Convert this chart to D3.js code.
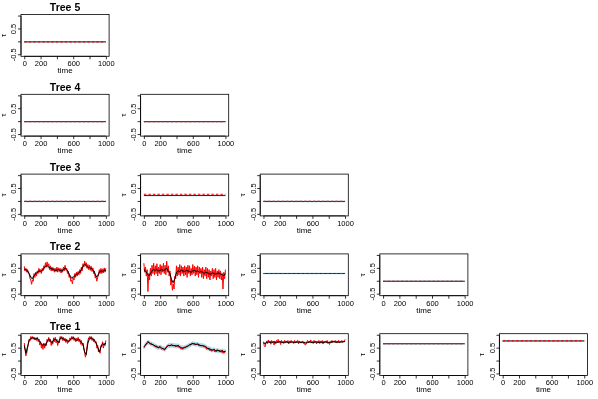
<!DOCTYPE html>
<html>
<head>
<meta charset="utf-8">
<script src="https://cdn.jsdelivr.net/npm/d3@7"></script>
<style>
  body { margin: 0; background: #fff; }
  svg { display: block; font-family: "Liberation Sans", Arial, sans-serif; will-change: transform; }
</style>
</head>
<body>
<svg id="chart" width="598" height="399"></svg>
<script>
const treeTitles = ["Tree 5", "Tree 4", "Tree 3", "Tree 2", "Tree 1"];
const xTicks = [0, 200, 400, 600, 800, 1000];
const xTickLabels = ["0", "200", "", "600", "", "1000"];
const yTicks = [-0.5, 0, 0.5, 1];
const yTickLabels = ["-0.5", "", "0.5", ""];
const meanStep = 20;
const trueStep = 10;

// constant pair copulas: row (0 = Tree 5), col, posterior mean, true value
const flatRows = [0, 1, 1, 2, 2, 2, 3, 3, 4, 4];
const flatCols = [0, 0, 1, 0, 1, 2, 2, 3, 3, 4];
const flatMean = [0, 0, 0, 0, 0.23, 0, 0.3, 0, 0.67, 0.78];
const flatTrue = [0, 0, 0, 0, 0.28, 0, 0.3, 0, 0.67, 0.78];

// dynamic pair copulas
const dynRows = [3, 3, 4, 4, 4];
const dynCols = [0, 1, 0, 1, 2];
const dynBand = [0.07, 0.07, 0.06, 0.09, 0.04];
const dynMean = [
  [0.46,0.45,0.4,0.3,0.15,0.1,0.22,0.28,0.35,0.4,0.38,0.42,0.5,0.58,0.6,0.55,0.5,0.48,0.45,0.42,0.43,0.45,0.42,0.4,0.45,0.5,0.45,0.35,0.2,0.12,0.15,0.22,0.27,0.3,0.35,0.45,0.58,0.65,0.6,0.55,0.52,0.5,0.45,0.35,0.18,0.2,0.35,0.4,0.38,0.42,0.43],
  [0.45,0.4,0.3,0.2,0.3,0.4,0.45,0.42,0.45,0.4,0.42,0.45,0.42,0.45,0.5,0.4,0.3,0.05,-0.05,0.1,0.35,0.4,0.38,0.42,0.4,0.38,0.42,0.4,0.38,0.35,0.4,0.42,0.38,0.4,0.35,0.38,0.35,0.3,0.35,0.32,0.3,0.28,0.32,0.3,0.28,0.3,0.32,0.28,0.25,0.22,0.3],
  [0.6,0.3,0.55,0.8,0.88,0.9,0.88,0.85,0.88,0.8,0.72,0.6,0.65,0.6,0.75,0.85,0.8,0.7,0.82,0.85,0.78,0.72,0.88,0.9,0.85,0.82,0.8,0.75,0.82,0.88,0.9,0.85,0.8,0.85,0.8,0.72,0.65,0.35,0.25,0.7,0.88,0.9,0.85,0.8,0.7,0.55,0.35,0.55,0.68,0.62,0.7],
  [0.55,0.62,0.7,0.72,0.68,0.65,0.62,0.58,0.55,0.52,0.55,0.5,0.48,0.45,0.55,0.6,0.6,0.62,0.6,0.6,0.58,0.6,0.55,0.52,0.5,0.52,0.55,0.58,0.62,0.65,0.68,0.66,0.65,0.65,0.62,0.6,0.6,0.58,0.55,0.5,0.48,0.45,0.42,0.45,0.4,0.42,0.4,0.38,0.4,0.36,0.38],
  [0.7,0.68,0.72,0.74,0.73,0.72,0.74,0.73,0.72,0.74,0.75,0.73,0.72,0.73,0.74,0.72,0.73,0.74,0.73,0.72,0.73,0.74,0.73,0.72,0.73,0.72,0.7,0.72,0.74,0.73,0.72,0.73,0.74,0.73,0.72,0.73,0.72,0.73,0.74,0.73,0.72,0.73,0.74,0.75,0.74,0.73,0.74,0.73,0.74,0.75,0.76]
];
const dynTrue = [
  [0.58,0.4,0.5,0.35,0.45,0.3,0.28,0.1,0.05,-0.12,0.05,0.0,0.3,0.15,0.35,0.2,0.4,0.3,0.5,0.35,0.45,0.3,0.5,0.4,0.6,0.5,0.72,0.55,0.75,0.6,0.68,0.45,0.6,0.4,0.55,0.4,0.52,0.35,0.5,0.38,0.55,0.35,0.52,0.38,0.5,0.32,0.48,0.35,0.55,0.4,0.62,0.45,0.5,0.3,0.38,0.15,0.22,0.0,0.05,-0.1,0.12,0.05,0.3,0.15,0.35,0.2,0.38,0.25,0.45,0.3,0.55,0.4,0.68,0.55,0.78,0.62,0.72,0.5,0.65,0.45,0.62,0.42,0.58,0.38,0.52,0.3,0.4,0.12,0.2,0.0,0.15,0.25,0.45,0.3,0.5,0.3,0.48,0.32,0.52,0.35,0.5],
  [0.7,0.35,0.55,0.2,0.45,-0.4,0.3,0.05,0.5,0.2,0.62,0.3,0.7,0.25,0.6,0.3,0.68,0.2,0.55,0.3,0.65,0.25,0.6,0.35,0.7,0.3,0.62,0.25,0.78,0.35,0.6,0.2,0.4,-0.15,0.05,-0.35,-0.1,-0.3,0.2,0.1,0.6,0.2,0.55,0.25,0.65,0.2,0.6,0.3,0.55,0.2,0.6,0.25,0.55,0.15,0.62,0.3,0.6,0.2,0.5,0.25,0.65,0.3,0.58,0.2,0.55,0.25,0.6,0.15,0.55,0.3,0.5,0.15,0.55,0.1,0.45,0.2,0.55,0.1,0.5,0.15,0.45,0.05,0.4,0.2,0.5,0.1,0.45,0.15,0.5,0.05,0.4,0.15,0.45,0.1,0.4,0.05,0.3,-0.3,0.35,0.1,0.45],
  [0.7,0.45,0.2,0.3,0.5,0.65,0.85,0.78,0.95,0.85,0.95,0.85,0.93,0.82,0.9,0.8,0.92,0.75,0.85,0.62,0.75,0.5,0.65,0.45,0.7,0.5,0.68,0.6,0.85,0.75,0.92,0.75,0.85,0.6,0.75,0.65,0.9,0.75,0.92,0.7,0.85,0.6,0.78,0.7,0.95,0.85,0.95,0.8,0.92,0.78,0.88,0.72,0.85,0.68,0.8,0.75,0.9,0.8,0.95,0.85,0.95,0.8,0.9,0.75,0.88,0.78,0.92,0.75,0.85,0.65,0.8,0.6,0.7,0.5,0.3,0.15,0.3,0.6,0.8,0.9,0.95,0.85,0.95,0.8,0.9,0.75,0.85,0.7,0.75,0.5,0.6,0.35,0.4,0.3,0.6,0.55,0.75,0.5,0.7,0.6,0.8],
  [0.5,0.58,0.6,0.68,0.72,0.78,0.72,0.7,0.65,0.68,0.62,0.65,0.6,0.58,0.55,0.6,0.52,0.55,0.5,0.58,0.52,0.5,0.45,0.5,0.45,0.42,0.48,0.52,0.58,0.6,0.62,0.58,0.62,0.6,0.64,0.58,0.62,0.58,0.6,0.55,0.6,0.56,0.62,0.52,0.55,0.48,0.5,0.45,0.52,0.5,0.55,0.52,0.58,0.55,0.6,0.6,0.65,0.62,0.68,0.65,0.7,0.65,0.68,0.62,0.66,0.64,0.68,0.6,0.64,0.58,0.62,0.58,0.6,0.55,0.58,0.52,0.55,0.45,0.5,0.45,0.48,0.4,0.45,0.38,0.44,0.42,0.46,0.35,0.42,0.36,0.44,0.38,0.42,0.35,0.4,0.34,0.42,0.3,0.38,0.32,0.4],
  [0.75,0.6,0.55,0.7,0.78,0.68,0.82,0.72,0.78,0.65,0.8,0.7,0.76,0.62,0.78,0.66,0.8,0.72,0.84,0.7,0.78,0.64,0.8,0.7,0.76,0.68,0.8,0.7,0.78,0.72,0.8,0.66,0.78,0.7,0.8,0.72,0.76,0.68,0.8,0.7,0.78,0.72,0.8,0.66,0.78,0.7,0.76,0.72,0.78,0.68,0.74,0.62,0.64,0.72,0.8,0.7,0.78,0.72,0.82,0.7,0.76,0.68,0.8,0.72,0.78,0.66,0.76,0.7,0.8,0.68,0.78,0.72,0.8,0.66,0.76,0.7,0.78,0.72,0.8,0.68,0.74,0.64,0.76,0.7,0.8,0.72,0.78,0.74,0.8,0.7,0.78,0.72,0.8,0.7,0.78,0.74,0.8,0.72,0.78,0.74,0.84]
];

const svg = d3.select("#chart");
const cellW = 598 / 5, cellH = 399 / 5;
const margin = { top: 14.5, right: 10.5, bottom: 23.5, left: 21 };
const innerW = cellW - margin.left - margin.right;
const innerH = cellH - margin.top - margin.bottom;
const pad = 0.04;
const x = d3.scaleLinear().domain([0 - 1000 * pad, 1000 + 1000 * pad]).range([0, innerW]);
const y = d3.scaleLinear().domain([-0.5 - 1.5 * pad, 1 + 1.5 * pad]).range([innerH, 0]);
const line = d3.line().x((d) => x(d[0])).y((d) => y(d[1]));

function panel(row, col) {
  const g = svg.append("g")
    .attr("transform", `translate(${col * cellW + margin.left},${row * cellH + margin.top})`);
  const xAxis = g.append("g").attr("transform", `translate(0,${innerH})`)
    .call(d3.axisBottom(x).tickValues(xTicks).tickSize(3).tickPadding(1.5).tickFormat((d, i) => xTickLabels[i]));
  const yAxis = g.append("g")
    .call(d3.axisLeft(y).tickValues(yTicks).tickSize(3).tickPadding(1.5).tickFormat((d, i) => yTickLabels[i]));
  [xAxis, yAxis].forEach((axis) => {
    axis.select(".domain").remove();
    axis.selectAll("line").attr("stroke", "#000").attr("stroke-width", 0.8);
    axis.selectAll("text").attr("fill", "#000").style("font-size", "7.5px");
  });
  xAxis.append("line").attr("x1", x(0)).attr("x2", x(1000)).attr("stroke", "#000").attr("stroke-width", 0.8);
  yAxis.append("line").attr("y1", y(-0.5)).attr("y2", y(1)).attr("stroke", "#000").attr("stroke-width", 0.8);
  // R draws y tick labels parallel to the axis
  yAxis.selectAll(".tick").attr("transform", null);
  yAxis.selectAll(".tick line").attr("y1", (d) => y(d)).attr("y2", (d) => y(d));
  yAxis.selectAll(".tick text")
    .attr("transform", (d) => `rotate(-90,-4.5,${y(d)})`)
    .attr("x", -4.5).attr("y", (d) => y(d)).attr("dy", "0").attr("text-anchor", "middle");
  g.append("text").attr("x", innerW / 2).attr("y", innerH + 17).attr("text-anchor", "middle")
    .attr("fill", "#000").style("font-size", "8px").text("time");
  g.append("text").attr("transform", `translate(-15,${innerH / 2}) rotate(-90)`).attr("text-anchor", "middle")
    .attr("fill", "#000").style("font-size", "8px").text("τ");
  if (col === 0) {
    g.append("text").attr("x", innerW / 2).attr("y", -3.5).attr("text-anchor", "middle").attr("fill", "#000")
      .style("font-size", "10.5px").style("font-weight", "bold").text(treeTitles[row]);
  }
  return g;
}

function frame(g) {
  g.append("rect").attr("width", innerW).attr("height", innerH)
    .attr("fill", "none").attr("stroke", "#000").attr("stroke-width", 0.8);
}

flatRows.forEach((row, i) => {
  const g = panel(row, flatCols[i]);
  const mean = [[0, flatMean[i]], [1000, flatMean[i]]];
  const tru = [[0, flatTrue[i]], [1000, flatTrue[i]]];
  g.append("path").attr("d", line(mean)).attr("fill", "none").attr("stroke", "#add8e6").attr("stroke-width", 1.4);
  g.append("path").attr("d", line(mean)).attr("fill", "none").attr("stroke", "#000").attr("stroke-width", 0.8);
  g.append("path").attr("d", line(tru)).attr("fill", "none").attr("stroke", "#ff0000").attr("stroke-width", 1.2)
    .attr("stroke-dasharray", "2.5,2");
  frame(g);
});

dynRows.forEach((row, i) => {
  const g = panel(row, dynCols[i]);
  const mean = dynMean[i].map((v, k) => [k * meanStep, v]);
  const tru = dynTrue[i].map((v, k) => [k * trueStep, v]);
  const band = d3.area().x((d) => x(d[0])).y0((d) => y(d[1] - dynBand[i])).y1((d) => y(d[1] + dynBand[i]));
  g.append("path").attr("d", band(mean)).attr("fill", "#add8e6");
  g.append("path").attr("d", line(tru)).attr("fill", "none").attr("stroke", "#ff0000").attr("stroke-width", 1);
  g.append("path").attr("d", line(mean)).attr("fill", "none").attr("stroke", "#000").attr("stroke-width", 1);
  frame(g);
});
</script>
</body>
</html>
